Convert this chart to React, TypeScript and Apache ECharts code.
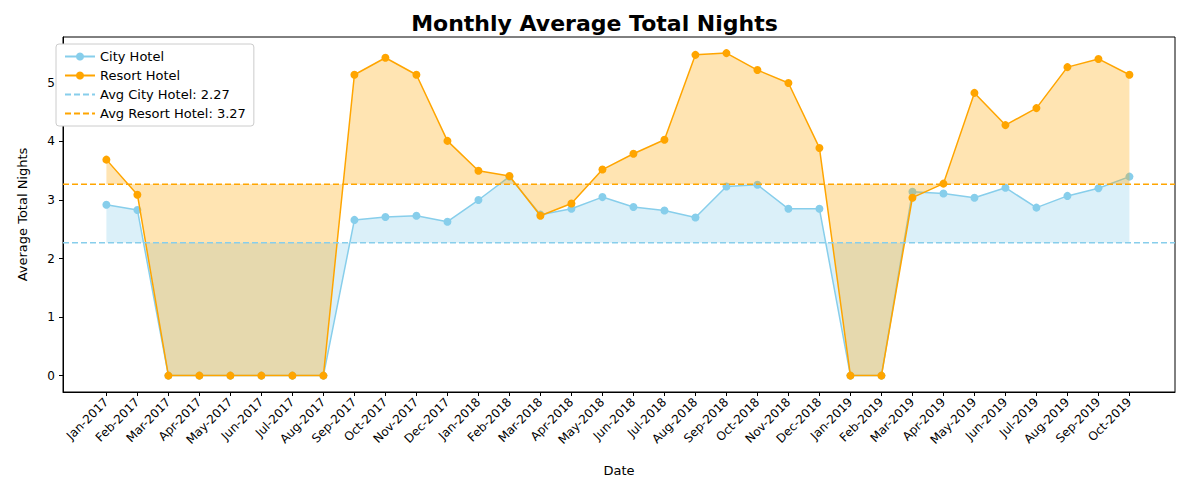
import React, { useEffect, useRef } from 'react';
import * as echarts from 'echarts';

const months = [
  'Jan-2017', 'Feb-2017', 'Mar-2017', 'Apr-2017', 'May-2017', 'Jun-2017', 'Jul-2017', 'Aug-2017',
  'Sep-2017', 'Oct-2017', 'Nov-2017', 'Dec-2017', 'Jan-2018', 'Feb-2018', 'Mar-2018', 'Apr-2018',
  'May-2018', 'Jun-2018', 'Jul-2018', 'Aug-2018', 'Sep-2018', 'Oct-2018', 'Nov-2018', 'Dec-2018',
  'Jan-2019', 'Feb-2019', 'Mar-2019', 'Apr-2019', 'May-2019', 'Jun-2019', 'Jul-2019', 'Aug-2019',
  'Sep-2019', 'Oct-2019',
];

const cityHotel = [
  2.92, 2.83, 0, 0, 0, 0, 0, 0, 2.66, 2.71, 2.73, 2.63, 3.0, 3.4, 2.75, 2.85,
  3.05, 2.88, 2.82, 2.7, 3.23, 3.26, 2.85, 2.85, 0, 0, 3.14, 3.11, 3.04, 3.21,
  2.87, 3.07, 3.2, 3.4,
];

const resortHotel = [
  3.69, 3.09, 0, 0, 0, 0, 0, 0, 5.14, 5.43, 5.14, 4.01, 3.5, 3.41, 2.73, 2.94,
  3.52, 3.79, 4.03, 5.48, 5.51, 5.22, 5.0, 3.89, 0, 0, 3.04, 3.28, 4.83, 4.28,
  4.57, 5.27, 5.41, 5.14,
];

const avgCity = 2.27;
const avgResort = 3.27;
const yTicks = [0, 1, 2, 3, 4, 5];

const CITY = '#87CEEB';
const RESORT = '#FFA500';
const X_MIN = -1.4;
const X_MAX = months.length - 1 + 1.47;

export default function App() {
  const ref = useRef<HTMLDivElement>(null);

  useEffect(() => {
    if (!ref.current) return;
    const chart = echarts.init(ref.current, undefined, { renderer: 'svg' });
    const idx = months.map((_, i) => i);
    const font = 'DejaVu Sans';
    const avgCityName = `Avg City Hotel: ${avgCity}`;
    const avgResortName = `Avg Resort Hotel: ${avgResort}`;

    chart.setOption({
      animation: false,
      textStyle: { fontFamily: font },
      title: {
        text: 'Monthly Average Total Nights',
        left: 'center',
        top: -1,
        textStyle: { fontSize: 22, fontWeight: 'bold', color: '#000', fontFamily: font },
      },
      grid: {
        left: 48, right: 6, top: 29, bottom: 90,
        show: true, borderColor: '#000', borderWidth: 1,
      },
      legend: {
        orient: 'vertical',
        left: 48,
        top: 36,
        itemWidth: 30,
        itemHeight: 10,
        itemGap: 6,
        backgroundColor: '#fff',
        borderColor: '#ccc',
        borderWidth: 1,
        borderRadius: 3,
        padding: [6, 8],
        textStyle: { fontSize: 13, color: '#000' },
        data: [
          'City Hotel',
          'Resort Hotel',
          { name: avgCityName, itemStyle: { opacity: 0 } },
          { name: avgResortName, itemStyle: { opacity: 0 } },
        ],
      },
      xAxis: {
        type: 'value',
        min: X_MIN,
        max: X_MAX,
        name: 'Date',
        nameLocation: 'middle',
        nameGap: 72,
        nameTextStyle: { fontSize: 13, color: '#000' },
        splitLine: { show: false },
        axisLine: { onZero: false, lineStyle: { color: '#000' } },
        axisTick: { customValues: idx, lineStyle: { color: '#000' }, length: 4 },
        axisLabel: {
          customValues: idx,
          rotate: 45,
          fontSize: 12,
          color: '#000',
          formatter: (v: number) => months[Math.round(v)] ?? '',
        },
      },
      yAxis: {
        type: 'value',
        min: -0.28,
        max: 5.785,
        name: 'Average Total Nights',
        nameLocation: 'middle',
        nameGap: 34,
        nameTextStyle: { fontSize: 13, color: '#000' },
        splitLine: { show: false },
        axisLine: { show: true, onZero: false, lineStyle: { color: '#000' } },
        axisTick: { show: true, customValues: yTicks, lineStyle: { color: '#000' }, length: 4 },
        axisLabel: { customValues: yTicks, fontSize: 12, color: '#000' },
      },
      series: [
        {
          name: 'City Hotel',
          type: 'line',
          data: cityHotel.map((v, i) => [i, v]),
          symbol: 'circle',
          symbolSize: 8,
          itemStyle: { color: CITY },
          lineStyle: { color: CITY, width: 1.5 },
          areaStyle: { origin: avgCity, color: CITY, opacity: 0.3 },
          z: 2,
        },
        {
          name: 'Resort Hotel',
          type: 'line',
          data: resortHotel.map((v, i) => [i, v]),
          symbol: 'circle',
          symbolSize: 8,
          itemStyle: { color: RESORT },
          lineStyle: { color: RESORT, width: 1.5 },
          areaStyle: { origin: avgResort, color: RESORT, opacity: 0.3 },
          z: 3,
        },
        {
          name: avgCityName,
          type: 'line',
          data: [[X_MIN, avgCity], [X_MAX, avgCity]],
          symbol: 'none',
          itemStyle: { color: CITY },
          lineStyle: { color: CITY, type: [6, 3], width: 1.5 },
          z: 4,
        },
        {
          name: avgResortName,
          type: 'line',
          data: [[X_MIN, avgResort], [X_MAX, avgResort]],
          symbol: 'none',
          itemStyle: { color: RESORT },
          lineStyle: { color: RESORT, type: [6, 3], width: 1.5 },
          z: 4,
        },
      ],
    });

    return () => chart.dispose();
  }, []);

  return <div ref={ref} style={{ width: 1173, height: 474 }} />;
}
